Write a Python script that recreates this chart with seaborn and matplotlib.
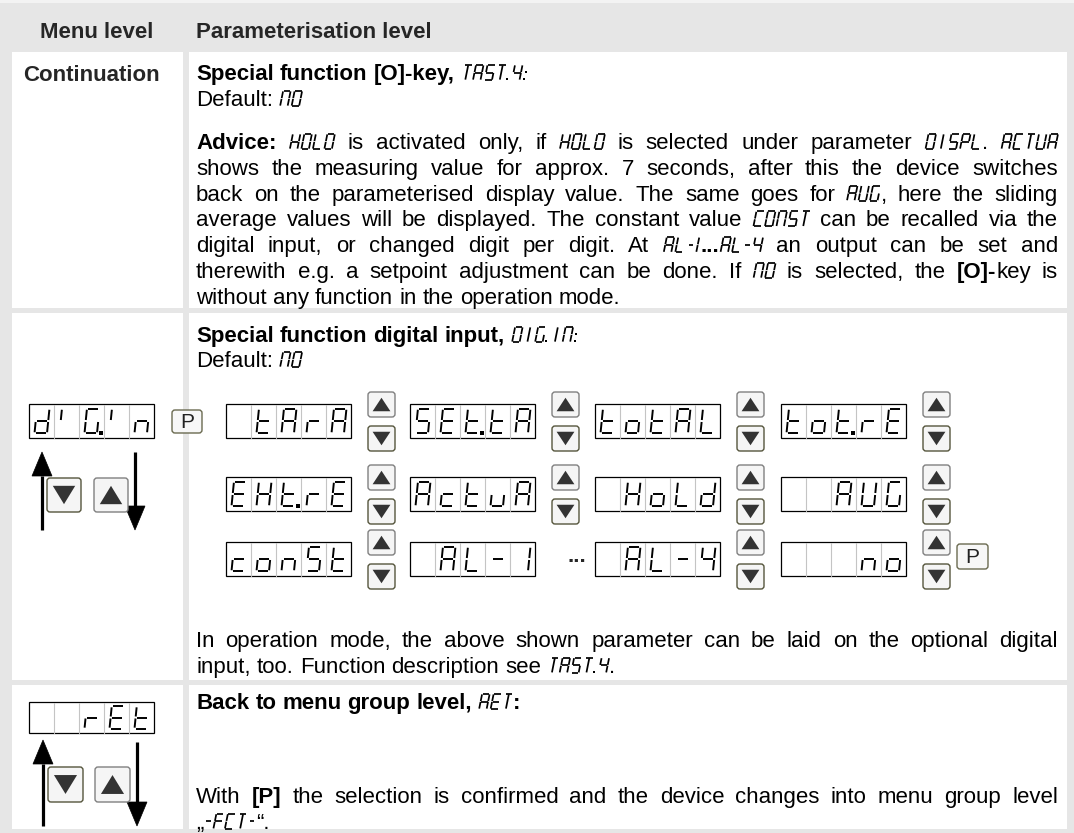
import matplotlib
matplotlib.use("Agg")
import matplotlib.pyplot as plt
import seaborn as sns
from matplotlib.patches import Rectangle, FancyBboxPatch, Polygon

sns.set_theme(style="white")
plt.rcParams["font.family"] = ["Liberation Sans", "DejaVu Sans"]

# -------------------------------------
# Page content
# -------------------------------------
HEADERS = ["Menu level", "Parameterisation level"]
MENU_LABEL = "Continuation"

# runs: (text, style)  n = normal, b = bold, s = segment font
ROW1_TITLE = [("Special function [O]-key, ", "b"), ("TAST.4:", "s")]
DEFAULT_NO = [("Default: ", "n"), ("NO", "s")]
ADVICE_LINES = [
    [("Advice: ", "b"), ("HOLD", "s"), (" is activated only, if ", "n"), ("HOLD", "s"),
     (" is selected under parameter ", "n"), ("DISPL", "s"), (". ", "n"), ("ACTUA", "s")],
    [("shows the measuring value for approx. 7 seconds, after this the device switches", "n")],
    [("back on the parameterised display value. The same goes for ", "n"), ("AVG", "s"),
     (", here the sliding", "n")],
    [("average values will be displayed. The constant value ", "n"), ("CONST", "s"),
     (" can be recalled via the", "n")],
    [("digital input, or changed digit per digit. At ", "n"), ("AL-1", "s"), ("...", "b"),
     ("AL-4", "s"), (" an output can be set and", "n")],
    [("therewith e.g. a setpoint adjustment can be done. If ", "n"), ("NO", "s"),
     (" is selected, the ", "n"), ("[O]-", "b"), ("key is", "n")],
    [("without any function in the operation mode.", "n")],
]
ROW2_TITLE = [("Special function digital input, ", "b"), ("DIG.IN:", "s")]
ROW2_NOTE = [
    [("In operation mode, the above shown parameter can be laid on the optional digital", "n")],
    [("input, too. Function description see ", "n"), ("TAST.4", "s"), (".", "n")],
]
ROW3_TITLE = [("Back to menu group level, ", "b"), ("RET", "s"), (":", "b")]
ROW3_NOTE = [
    [("With ", "n"), ("[P]", "b"),
     (" the selection is confirmed and the device changes into menu group level", "n")],
    [("\u201e", "n"), ("-FCT-", "s"), ("\u201c.", "n")],
]

MENU_DISPLAYS = ["dIG.In", "  rEt"]
DIGIN_OPTIONS = [
    [" tArA", "SEt.tA", "totAL", "tot.rE"],
    ["EHt.rE", "ActuA", " HoLd", "  AUG"],
    ["conSt", " AL-1", " AL-4", "   no"],
]

# segment maps
BIG_SEGS = {"d": "bcdeg", "I": "f", "G": "acdef", "n": "ceg", "t": "defg", "A": "abcefg",
            "r": "eg", "S": "acdfg", "E": "adefg", "o": "cdeg", "L": "def", "H": "bcefg",
            "c": "deg", "u": "cde", "U": "bcdef", "-": "g", "1": "bc", "4": "bcfg", " ": ""}
SMALL_SEGS = {"T": "ai", "A": "abcefg", "S": "acdfg", "4": "bcfg", "N": "abcef", "O": "abcdef",
              "H": "bcefg", "L": "def", "D": "abcdef", "I": "i", "P": "abefg", "C": "adef",
              "U": "bcdef", "V": "bcdef", "G": "acdef", "E": "adefg", "F": "aefg",
              "R": "abcefg", "-": "g", "1": "bc"}
SEG_LINES = {"a": ((0, 1), (1, 1)), "b": ((1, 1), (1, .5)), "c": ((1, .5), (1, 0)),
             "d": ((0, 0), (1, 0)), "e": ((0, 0), (0, .5)), "f": ((0, .5), (0, 1)),
             "g": ((0, .5), (1, .5)), "i": ((.5, 1), (.5, 0))}

# -------------------------------------
# Figure
# -------------------------------------
W, H = 1074, 833
fig = plt.figure(figsize=(W / 100, H / 100), dpi=100)
ax = fig.add_axes([0, 0, 1, 1])
ax.set_xlim(0, W)
ax.set_ylim(H, 0)
ax.axis("off")
renderer = fig.canvas.get_renderer()

FS = 16
GRAY = "#e6e6e6"
ax.add_patch(Rectangle((0, 0), W, H, fc=GRAY, ec="none"))
ax.add_patch(Rectangle((0, 0), W, 3, fc="#f3f3f3", ec="none"))
for (x0, x1) in [(12, 183), (189, 1067)]:
    for (y0, y1) in [(52, 308), (313, 680), (685, 829)]:
        ax.add_patch(Rectangle((x0, y0), x1 - x0, y1 - y0, fc="white", ec="none"))

ax.text(97, 38, HEADERS[0], fontsize=FS, fontweight="bold", ha="center", va="baseline")
ax.text(196, 38, HEADERS[1], fontsize=FS, fontweight="bold", ha="left", va="baseline")
ax.text(23, 81, MENU_LABEL, fontsize=FS, fontweight="bold", ha="left", va="baseline")


def glyph(x0, yb, w, h, segs, lw, slant, gap):
    for s in segs:
        (u0, v0), (u1, v1) = SEG_LINES[s]
        p0 = [x0 + u0 * w + v0 * h * slant, yb - v0 * h]
        p1 = [x0 + u1 * w + v1 * h * slant, yb - v1 * h]
        dx, dy = p1[0] - p0[0], p1[1] - p0[1]
        ln = (dx ** 2 + dy ** 2) ** 0.5
        gx, gy = dx / ln * gap, dy / ln * gap
        ax.plot([p0[0] + gx, p1[0] - gx], [p0[1] + gy, p1[1] - gy], color="black",
                lw=lw, solid_capstyle="butt")


def dot(x, y, size=2.0):
    ax.plot([x], [y], marker="s", ms=size, color="black", mec="black", mew=0)


SEG_ADV, SEG_W, SEG_H, SEG_SLANT = 11.5, 7.5, 15, 0.2
NARROW = {".": 4.5, ":": 5.0, "-": 9.0, "1": 6.0}


def seg_width(s):
    return sum(NARROW.get(c, SEG_ADV) for c in s)


def draw_seg_text(x, yb, s):
    for c in s:
        if c == ".":
            dot(x + 0.5, yb - 1.0)
        elif c == ":":
            dot(x + 1.5 + SEG_H * 0.2 * 0.1, yb - 1.0)
            dot(x + 1.5 + SEG_H * 0.2 * 0.55, yb - 0.55 * SEG_H)
        elif c == "-":
            glyph(x + 1.0, yb, 5.5, SEG_H, "g", 1.25, SEG_SLANT, 0.4)
        elif c == "1":
            glyph(x - 1.0, yb, 2.5, SEG_H, "bc", 1.25, SEG_SLANT, 0.4)
        else:
            glyph(x + 1.0, yb, SEG_W, SEG_H, SMALL_SEGS.get(c, ""), 1.25, SEG_SLANT, 0.4)
        x += NARROW.get(c, SEG_ADV)


def text_width(s, weight):
    t = ax.text(0, 0, s, fontsize=FS, fontweight=weight)
    w = t.get_window_extent(renderer=renderer).width
    t.remove()
    return w


SPACE = text_width("a a", "normal") - text_width("aa", "normal")


def tokenize(runs):
    words = [[]]
    for txt, st in runs:
        parts = txt.split(" ")
        for i, p in enumerate(parts):
            if i > 0:
                words.append([])
            if p:
                words[-1].append((p, st))
    return [w for w in words if w]


def piece_width(p, st):
    if st == "s":
        return seg_width(p)
    return text_width(p, "bold" if st == "b" else "normal")


def draw_runs(x, yc, runs, right=None):
    words = tokenize(runs)
    widths = [[piece_width(p, st) for p, st in w] for w in words]
    total = sum(sum(w) for w in widths)
    sp = SPACE if right is None or len(words) < 2 else (right - x - total) / (len(words) - 1)
    yb = yc + 8
    cur = x
    for w, ws in zip(words, widths):
        for (p, st), pw in zip(w, ws):
            if st == "s":
                draw_seg_text(cur, yb, p)
            else:
                ax.text(cur, yb, p, fontsize=FS, fontweight="bold" if st == "b" else "normal",
                        ha="left", va="baseline", color="black")
            cur += pw
        cur += sp


def draw_paragraph(x, y0, step, lines, right):
    for k, line in enumerate(lines):
        draw_runs(x, y0 + k * step, line, right if k < len(lines) - 1 else None)


TX, TR, LS = 196, 1058, 25.8

# row 1
draw_runs(TX, 72, ROW1_TITLE)
draw_runs(TX, 98, DEFAULT_NO)
draw_paragraph(TX, 141, LS, ADVICE_LINES, TR)

# row 2
draw_runs(TX, 334, ROW2_TITLE)
draw_runs(TX, 359, DEFAULT_NO)
draw_paragraph(TX, 639, LS, ROW2_NOTE, TR)

# row 3
draw_runs(TX, 701, ROW3_TITLE)
draw_paragraph(TX, 795, LS, ROW3_NOTE, TR)


# -------------------------------------
# Displays, buttons and arrows
# -------------------------------------
def parse_cells(s):
    cells = []
    for c in s:
        if c == "." and cells:
            cells[-1][1] = True
        else:
            cells.append([c, False])
    return cells


def display(x, top, text, w=125, h=34):
    cw = w / 5
    ax.add_patch(Rectangle((x, top), w, h, fill=False, ec="black", lw=0.9))
    for i in range(1, 5):
        ax.plot([x + i * cw] * 2, [top + 0.5, top + h - 0.5], color="#c4c4c4", lw=0.8)
    gh = h * 0.72
    yb = top + (h + gh) / 2
    for i, (ch, dp) in enumerate(parse_cells(text)):
        cx = x + i * cw
        glyph(cx + 5.5, yb, 12.5, gh, BIG_SEGS.get(ch, ""), 1.4, 0.1, 1.0)
        if dp:
            dot(cx + cw - 3.5, yb - 0.5, 2.4)


def button(x, y, w, h, up=True):
    ec = "#808080" if up else "#55553c"
    ax.add_patch(FancyBboxPatch((x, y), w, h, boxstyle="round,pad=0,rounding_size=3",
                                fc="#f5f5f5", ec=ec, lw=1.0))
    cx, cy = x + w / 2, y + h / 2
    tw, th = w * 0.66, h * 0.54
    if up:
        pts = [(cx - tw / 2, cy + th / 2), (cx + tw / 2, cy + th / 2), (cx, cy - th / 2)]
    else:
        pts = [(cx - tw / 2, cy - th / 2), (cx + tw / 2, cy - th / 2), (cx, cy + th / 2)]
    ax.add_patch(Polygon(pts, closed=True, fc="#333333", ec="none"))


def p_button(x, y, w=30, h=24):
    ax.add_patch(FancyBboxPatch((x, y), w, h, boxstyle="round,pad=0,rounding_size=3",
                                fc="#f7f7f7", ec="#6a6a50", lw=1.0))
    ax.text(x + w / 2, y + h / 2 + 1, "P", fontsize=15, ha="center", va="center", color="#222222")


def arrow(x, y_tail, y_tip):
    d = 1 if y_tip > y_tail else -1
    base = y_tip - d * 24
    ax.plot([x, x], [y_tail, base], color="black", lw=2.3, solid_capstyle="butt")
    ax.add_patch(Polygon([(x - 10, base), (x + 10, base), (x, y_tip)], closed=True,
                         fc="black", ec="black", lw=0.5))


# menu side
display(29, 404, MENU_DISPLAYS[0])
p_button(172, 410, 30, 23)
arrow(42, 530, 452)
arrow(135, 452, 530)
button(47, 478, 34, 34, up=False)
button(94, 478, 34, 34, up=True)

display(29, 702, MENU_DISPLAYS[1], h=31)
arrow(43, 826, 740)
arrow(137, 742, 826)
button(48, 767, 35, 35, up=False)
button(95, 767, 35, 35, up=True)

# parameter options
BOX_X = [226, 410, 595, 781]
ROW_TOP = [404, 477, 542]
for r, (top, names) in enumerate(zip(ROW_TOP, DIGIN_OPTIONS)):
    for c, (bx, name) in enumerate(zip(BOX_X, names)):
        display(bx, top, name)
        if r == 2 and c == 1:
            ax.text(577, top + 20, "...", fontsize=FS, fontweight="bold", ha="center",
                    va="baseline")
            continue
        button(bx + 142, top - 12, 27, 25, up=True)
        button(bx + 142, top + 22, 27, 25, up=False)
p_button(957, ROW_TOP[2] + 2, 31, 25)

fig.savefig("out.png", dpi=100)
